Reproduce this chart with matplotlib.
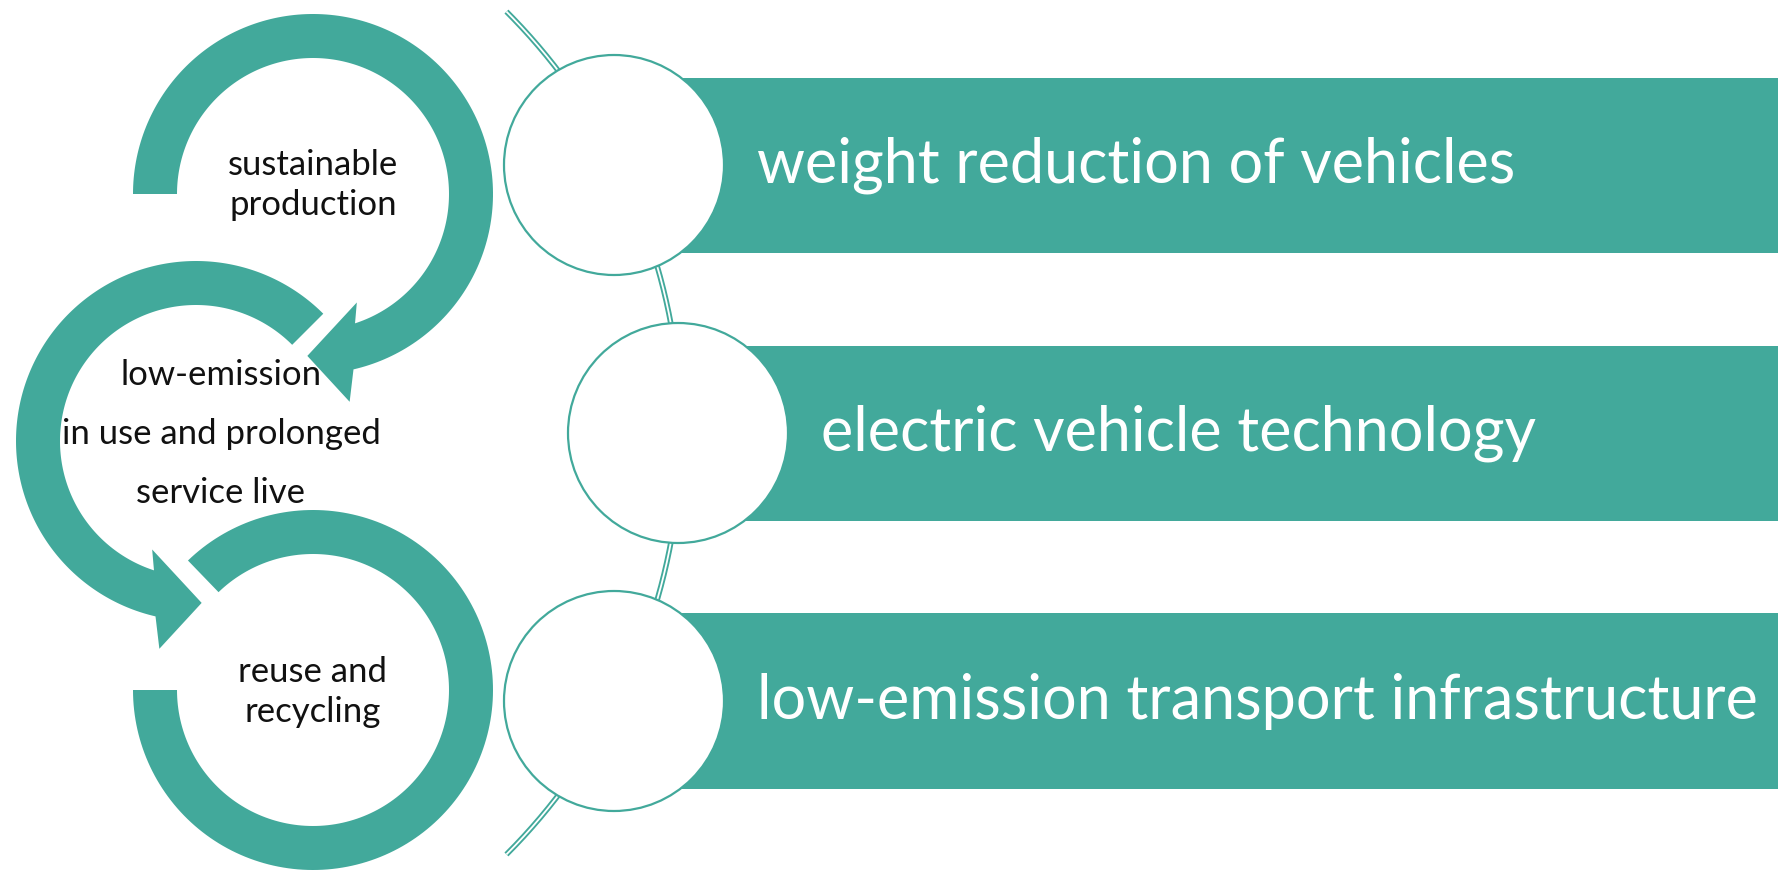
import numpy as np
import matplotlib
matplotlib.use("Agg")
import matplotlib.pyplot as plt
from matplotlib.patches import Polygon, Circle, Rectangle

TEAL = "#42a99b"
W, H = 1778, 871

# left cycle: three ring arrows
cycle_labels = ["sustainable\nproduction",
                "low-emission\nin use and prolonged\nservice live",
                "reuse and\nrecycling"]
ring_cx = [313, 196, 313]
ring_cy = [194, 441, 690]
ring_start = [180, 45, 134]     # degrees, y up
ring_end = [-72, 252, -180]
ring_dir = [-1, 1, -1]          # -1 clockwise, 1 counter-clockwise
ring_head = [True, True, False]
label_xy = [(313, 185), (221, 434), (313, 692)]
label_spacing = [1.31, 2.03, 1.32]

# right list: circles on an arc + bars
items = ["weight reduction of vehicles",
         "electric vehicle technology",
         "low-emission transport infrastructure"]
circ_cx = [614, 678, 614]
circ_cy = [165, 433, 701]
circ_r = 110
bar_top = [78, 346, 613]
bar_bottom = [253, 521, 789]

R_OUT, R_IN = 180, 136


def arc_pts(cx, cy, r, a0, a1, n=200):
    a = np.radians(np.linspace(a0, a1, n))
    return np.c_[cx + r * np.cos(a), cy - r * np.sin(a)]


def pt(cx, cy, r, a):
    a = np.radians(a)
    return [cx + r * np.cos(a), cy - r * np.sin(a)]


fig = plt.figure(figsize=(W / 100, H / 100), dpi=100)
ax = fig.add_axes([0, 0, 1, 1])
ax.set_xlim(0, W)
ax.set_ylim(H, 0)
ax.set_aspect("equal")
ax.axis("off")

for i in range(3):
    cx, cy, d, b = ring_cx[i], ring_cy[i], ring_dir[i], ring_end[i]
    if ring_head[i]:
        outer = arc_pts(cx, cy, R_OUT, ring_start[i], b + 5 * d)
        head = np.array([pt(cx, cy, 211, b + 8 * d),
                         pt(cx, cy, 162, b + 20 * d),
                         pt(cx, cy, 117, b - 4 * d)])
        inner = arc_pts(cx, cy, R_IN, b, ring_start[i])
        verts = np.vstack([outer, head, inner])
    else:
        outer = arc_pts(cx, cy, R_OUT, ring_start[i], b)
        inner = arc_pts(cx, cy, R_IN, b, ring_start[i])
        verts = np.vstack([outer, inner])
    ax.add_patch(Polygon(verts, closed=True, facecolor=TEAL, edgecolor="none", zorder=2))
    ax.text(label_xy[i][0], label_xy[i][1], cycle_labels[i], ha="center", va="center",
            fontsize=25, family="Lato", color="#111111", linespacing=label_spacing[i], zorder=3)

# bars
for i in range(3):
    ax.add_patch(Rectangle((circ_cx[i], bar_top[i]), W - circ_cx[i], bar_bottom[i] - bar_top[i],
                           facecolor=TEAL, edgecolor="none", zorder=1))
    ax.text(circ_cx[i] + 143, (bar_top[i] + bar_bottom[i]) / 2, items[i], ha="left", va="center",
            fontsize=44, family="Lato", color="white", zorder=4)

# thin double arc behind the circles
arc = arc_pts(85, 433, 596, -45, 45, 300)
ax.plot(arc[:, 0], arc[:, 1], color=TEAL, lw=4.0, solid_capstyle="butt", zorder=2)
ax.plot(arc[:, 0], arc[:, 1], color="white", lw=1.3, solid_capstyle="butt", zorder=2.1)

for i in range(3):
    ax.add_patch(Circle((circ_cx[i], circ_cy[i]), circ_r, facecolor="white",
                        edgecolor=TEAL, lw=1.6, zorder=3))

fig.savefig("out.png", dpi=100)
